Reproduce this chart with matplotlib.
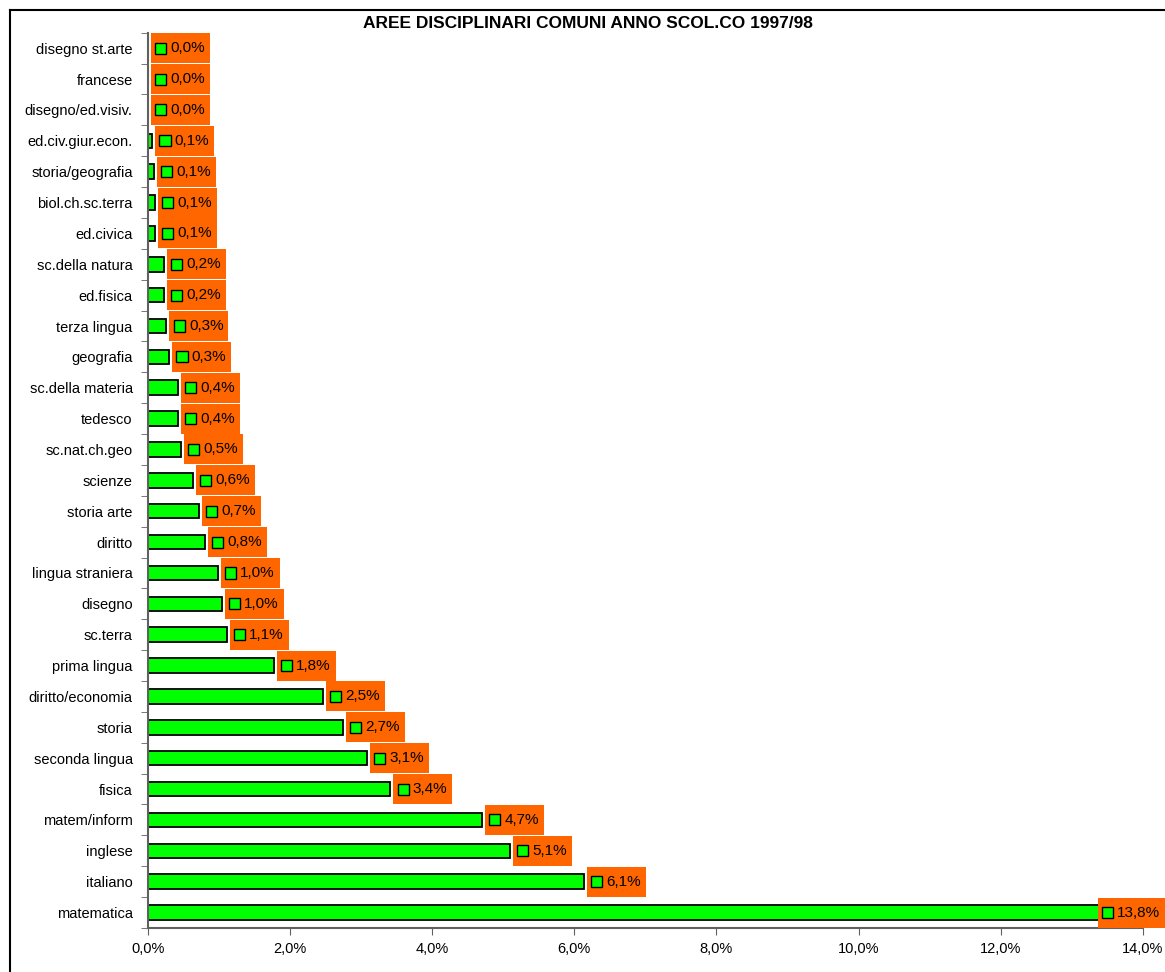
import matplotlib
matplotlib.use("Agg")
import matplotlib.pyplot as plt
from matplotlib.patches import Rectangle
from matplotlib.lines import Line2D
from matplotlib.offsetbox import AnnotationBbox, HPacker, DrawingArea, TextArea

# dati (percentuali), dall'alto verso il basso
materie = ["disegno st.arte", "francese", "disegno/ed.visiv.", "ed.civ.giur.econ.",
           "storia/geografia", "biol.ch.sc.terra", "ed.civica", "sc.della natura",
           "ed.fisica", "terza lingua", "geografia", "sc.della materia", "tedesco",
           "sc.nat.ch.geo", "scienze", "storia arte", "diritto", "lingua straniera",
           "disegno", "sc.terra", "prima lingua", "diritto/economia", "storia",
           "seconda lingua", "fisica", "matem/inform", "inglese", "italiano", "matematica"]
valori = [0.0, 0.0, 0.0, 0.06, 0.08, 0.1, 0.1, 0.22, 0.22, 0.26, 0.3, 0.42, 0.42,
          0.46, 0.63, 0.72, 0.8, 0.98, 1.04, 1.11, 1.77, 2.46, 2.74, 3.08, 3.41,
          4.7, 5.09, 6.13, 13.8]
xticks = [0, 2, 4, 6, 8, 10, 12, 14]

plt.rcParams['font.family'] = ['Liberation Sans', 'DejaVu Sans']

fig = plt.figure(figsize=(11.65, 9.72), dpi=100)
ax = fig.add_axes([0.127, 0.0453, 0.854, 0.921])

# cornice esterna (solo lato sinistro e superiore visibili)
fig.add_artist(Line2D([10 / 1165, 10 / 1165], [0, 1 - 10 / 972], transform=fig.transFigure,
                      color='black', lw=1.5))
fig.add_artist(Line2D([10 / 1165, 1], [1 - 10 / 972, 1 - 10 / 972], transform=fig.transFigure,
                      color='black', lw=1.5))

pos = list(range(len(materie)))[::-1]
ax.barh(pos, valori, height=0.47, color='#00FF00', edgecolor='black', lw=1.3, zorder=2)

ax.set_xlim(0, 14)
ax.set_ylim(-0.5, len(materie) - 0.5)
ax.set_xticks(xticks)
ax.set_xticklabels(["{:.1f}%".format(t).replace('.', ',') for t in xticks], fontsize=10.5)
ax.set_yticks(pos)
ax.set_yticklabels(materie, fontsize=10.5)
ax.set_yticks([p - 0.5 for p in range(len(materie) + 1)], minor=True)
ax.tick_params(axis='y', which='major', length=0, pad=11)
ax.tick_params(axis='y', which='minor', length=5, color='#606060', direction='out')
ax.tick_params(axis='x', length=5, color='#606060', direction='out', pad=5)
for s in ['top', 'right']:
    ax.spines[s].set_visible(False)
for s in ['left', 'bottom']:
    ax.spines[s].set_color('#606060')
    ax.spines[s].set_linewidth(1.5)

# etichette arancioni con quadratino verde
for p, v in zip(pos, valori):
    sx = DrawingArea(0, 21.6, 0, 0)
    sq = DrawingArea(8, 8, 0, 0)
    sq.add_artist(Rectangle((0, 0), 8, 8, fc='#00FF00', ec='black', lw=1.0))
    ta = TextArea("{:.1f}%".format(v).replace('.', ','), textprops=dict(fontsize=11, color='black'))
    dx = DrawingArea(0.5, 1, 0, 0)
    box = HPacker(children=[sx, sq, ta, dx], align='center', pad=0, sep=3)
    if v > 13:
        # come in Excel: l'etichetta rientra nel bordo
        ab = AnnotationBbox(box, (1.0, p), xybox=(0, 0), xycoords=('figure fraction', 'data'),
                            boxcoords='offset points', box_alignment=(1, 0.5),
                            frameon=True, pad=0,
                            bboxprops=dict(fc='#FF6600', ec='none', boxstyle='square,pad=0'),
                            annotation_clip=False, zorder=3)
    else:
        ab = AnnotationBbox(box, (v, p), xybox=(2.2, 0), xycoords='data',
                            boxcoords='offset points', box_alignment=(0, 0.5),
                            frameon=True, pad=0,
                            bboxprops=dict(fc='#FF6600', ec='none', boxstyle='square,pad=0'),
                            annotation_clip=False, zorder=3)
    ax.add_artist(ab)

fig.text(0.505, 0.976, "AREE DISCIPLINARI COMUNI ANNO SCOL.CO 1997/98",
         ha='center', va='center', fontsize=12.5, fontweight='bold')

fig.savefig("out.png", dpi=100)
